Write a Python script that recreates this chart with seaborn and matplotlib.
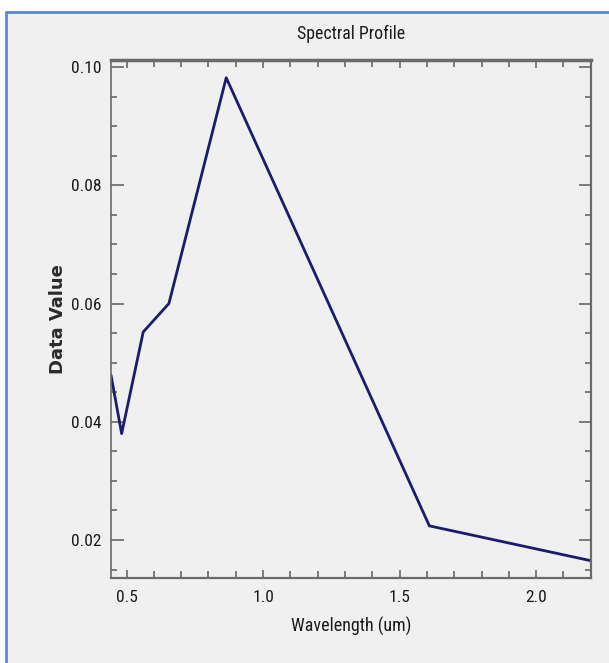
import matplotlib
matplotlib.use("Agg")
import matplotlib.pyplot as plt
from matplotlib.ticker import MultipleLocator
from matplotlib.lines import Line2D
from matplotlib import font_manager
import seaborn as sns
import pandas as pd

# Data
wavelength = [0.443, 0.482, 0.561, 0.655, 0.865, 1.609, 2.201]
data_value = [0.0479, 0.0380, 0.0552, 0.0600, 0.0982, 0.0224, 0.0165]
x_ticks = [0.5, 1.0, 1.5, 2.0]
x_tick_labels = ["0.5", "1.0", "1.5", "2.0"]
y_ticks = [0.02, 0.04, 0.06, 0.08, 0.10]
y_tick_labels = ["0.02", "0.04", "0.06", "0.08", "0.10"]
title_text = "Spectral Profile"
x_label = "Wavelength (um)"
y_label = "Data Value"

df = pd.DataFrame({"Wavelength": wavelength, "Value": data_value})

sns.set_style("ticks")

# pick a narrow font if one is installed
installed = {f.name for f in font_manager.fontManager.ttflist}
narrow = None
for cand in ["Liberation Sans Narrow", "Roboto Condensed", "DejaVu Sans Condensed",
             "Open Sans Condensed", "Liberation Sans"]:
    if cand in installed:
        narrow = cand
        break
if narrow is None:
    narrow = "DejaVu Sans"
is_narrow = narrow in ("Liberation Sans Narrow", "Roboto Condensed",
                       "DejaVu Sans Condensed", "Open Sans Condensed")
plt.rcParams["font.family"] = [narrow, "DejaVu Sans"]

tick_fs = 12.5 if is_narrow else 11.5
title_fs = 12.8 if is_narrow else 11.5
xlabel_fs = 13 if is_narrow else 11.8

bg = "#f0f0f0"
fig = plt.figure(figsize=(6.09, 6.63), dpi=100)
fig.patch.set_facecolor("white")

# light grey panel with blue border (left & top visible)
fig.patches.append(plt.Rectangle((6 / 609, 0), 1 - 6 / 609, 1 - 12 / 663,
                                 transform=fig.transFigure, facecolor=bg,
                                 edgecolor="none", zorder=-5))
fig.lines.append(Line2D([6 / 609, 6 / 609], [0, 1 - 12 / 663], transform=fig.transFigure,
                        color="#5b8ad0", lw=2, zorder=-4))
fig.lines.append(Line2D([6 / 609, 1], [1 - 12 / 663, 1 - 12 / 663], transform=fig.transFigure,
                        color="#5b8ad0", lw=2, zorder=-4))

ax = fig.add_axes([111 / 609, 1 - 578 / 663, 480 / 609, 518 / 663])
ax.set_facecolor(bg)

sns.lineplot(data=df, x="Wavelength", y="Value", ax=ax, color="#1c1c6e",
             linewidth=2.0, sort=False)

ax.set_xlim(0.443, 2.201)
ax.set_ylim(0.01358, 0.1012)

ax.set_xticks(x_ticks)
ax.set_xticklabels(x_tick_labels)
ax.set_yticks(y_ticks)
ax.set_yticklabels(y_tick_labels)
ax.xaxis.set_minor_locator(MultipleLocator(0.1))
ax.yaxis.set_minor_locator(MultipleLocator(0.005))

tick_col = "#1a1a1a"
ax.tick_params(axis="both", which="both", direction="in", top=True, right=True,
               colors="#666666", labelcolor=tick_col, labelsize=tick_fs)
ax.tick_params(axis="x", which="major", length=6, width=1.2, pad=9)
ax.tick_params(axis="x", which="minor", length=5, width=1.2)
ax.tick_params(axis="y", which="major", length=9, width=1.2, pad=7)
ax.tick_params(axis="y", which="minor", length=4, width=1.2)

for side, lw in [("top", 2.5), ("bottom", 1.6), ("left", 1.2), ("right", 1.6)]:
    ax.spines[side].set_visible(True)
    ax.spines[side].set_color("#6a6a6a")
    ax.spines[side].set_linewidth(lw)

ax.set_title(title_text, fontsize=title_fs, color="#1a1a1a", pad=15)
ax.set_xlabel(x_label, fontsize=xlabel_fs, color="#1a1a1a")
ax.set_ylabel(y_label, fontsize=13, color="#2a2a2a", fontweight="bold",
              family=["DejaVu Sans"])
ax.xaxis.set_label_coords(0.5, -(617 - 578) / 518)
ax.yaxis.set_label_coords(-(111 - 67) / 480, 0.5)

fig.savefig("out.png", dpi=100, facecolor=fig.get_facecolor())
